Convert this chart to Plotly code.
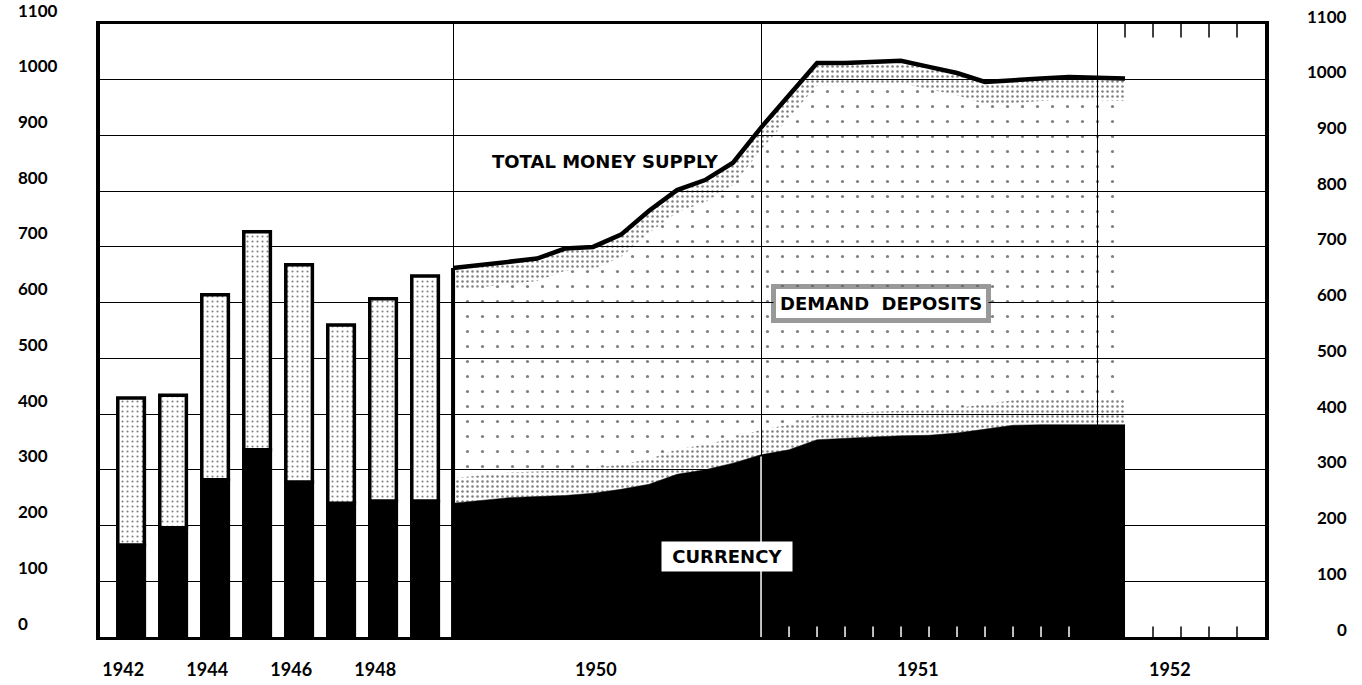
import plotly.graph_objects as go

# ---------------- data ----------------
bar_years = [1942, 1943, 1944, 1945, 1946, 1947, 1948, 1949]
bar_total = [429, 434, 614, 727, 668, 560, 607, 648]
bar_currency = [165, 196, 282, 336, 278, 240, 244, 244]

# monthly observations, 1950 .. early 1952
month_index = list(range(25))
month_total = [662, 668, 674, 679, 697, 700, 722, 765, 802, 820, 851, 914, 972,
               1030, 1030, 1032, 1034, 1023, 1012, 996, 998, 1002, 1005, 1003, 1002]
month_currency = [240, 245, 250, 252, 254, 258, 265, 274, 292, 300, 312, 327, 336,
                  354, 357, 359, 361, 362, 366, 373, 380, 381, 381, 381, 381]

bar_label_years = [1942, 1944, 1946, 1948]
month_years = [1950, 1951, 1952]
y_ticks = [0, 100, 200, 300, 400, 500, 600, 700, 800, 900, 1000, 1100]

# ---------------- layout mapping (x axis in month units) ----------------
BAR_STEP = 1.5
year_start = {1950: 0, 1951: 11, 1952: 23}
X_RANGE = [-12.61, 29.0]
year_end = {1950: 11, 1951: 23, 1952: X_RANGE[1]}
bar_x = [-1.0 - BAR_STEP * (bar_years[-1] - y) for y in bar_years]
bar_deposits = [t - c for t, c in zip(bar_total, bar_currency)]

tick_pos = [bar_x[bar_years.index(y)] - 0.28 for y in bar_label_years] + \
           [(year_start[y] + year_end[y]) / 2 - 0.4 for y in month_years]
tick_txt = [str(y) for y in bar_label_years + month_years]

FONT = "Lato"
LABEL_FONT = "DejaVu Sans"
fig = go.Figure()

# black currency area
fig.add_trace(go.Scatter(x=month_index, y=month_currency, mode="lines",
                         line=dict(color="black", width=0.5), fill="tozeroy",
                         fillcolor="black", hoverinfo="skip"))
# stipple shading of the demand-deposit area (denser near the edges)
band_low = [c + 45 for c in month_currency]
band_high = [t - 40 for t in month_total]
fig.add_trace(go.Scatter(x=month_index, y=band_low, mode="lines", line=dict(width=0),
                         fill="tonexty", fillcolor="rgba(0,0,0,0)",
                         fillpattern=dict(shape=".", fgcolor="black", bgcolor="rgba(0,0,0,0)",
                                          size=5, solidity=0.2), hoverinfo="skip"))
fig.add_trace(go.Scatter(x=month_index, y=band_high, mode="lines", line=dict(width=0),
                         fill="tonexty", fillcolor="rgba(0,0,0,0)",
                         fillpattern=dict(shape=".", fgcolor="black", bgcolor="rgba(0,0,0,0)",
                                          size=15, solidity=0.035), hoverinfo="skip"))
fig.add_trace(go.Scatter(x=month_index, y=month_total, mode="lines",
                         line=dict(color="black", width=4.5),
                         fill="tonexty", fillcolor="rgba(0,0,0,0)",
                         fillpattern=dict(shape=".", fgcolor="black", bgcolor="rgba(0,0,0,0)",
                                          size=5, solidity=0.2), hoverinfo="skip"))
# left edge of the monthly area
fig.add_trace(go.Scatter(x=[month_index[0], month_index[0]], y=[0, month_total[0]],
                         mode="lines", line=dict(color="black", width=4), hoverinfo="skip"))
# white 1951 line through the currency block
i51 = year_start[1951]
fig.add_trace(go.Scatter(x=[month_index[i51], month_index[i51]], y=[0, month_currency[i51] - 3],
                         mode="lines", line=dict(color="white", width=1.5), hoverinfo="skip"))

# annual bars
fig.add_trace(go.Bar(x=bar_x, y=bar_currency, width=0.95,
                     marker=dict(color="black", line=dict(color="black", width=3.5)),
                     hoverinfo="skip"))
fig.add_trace(go.Bar(x=bar_x, y=bar_deposits, base=bar_currency, width=0.95,
                     marker=dict(color="white", line=dict(color="black", width=3.5),
                                 pattern=dict(shape=".", fgcolor="black", bgcolor="white",
                                              size=5, solidity=0.14)),
                     hoverinfo="skip"))

# month ticks
shapes = []
for m in range(12, 23):
    shapes.append(dict(type="line", xref="x", yref="paper", x0=m, x1=m, y0=0, y1=0.017,
                       line=dict(color="white", width=1.5)))
for m in range(25, 29):
    shapes.append(dict(type="line", xref="x", yref="paper", x0=m, x1=m, y0=0, y1=0.017,
                       line=dict(color="black", width=1.5)))
for m in range(24, 29):
    shapes.append(dict(type="line", xref="x", yref="paper", x0=m, x1=m, y0=1, y1=0.978,
                       line=dict(color="black", width=1.5)))

annotations = []
for v in y_ticks:
    annotations.append(dict(x=-0.072, xref="paper", y=v, yref="y", text=str(v),
                            xanchor="left", yanchor="middle", showarrow=False, yshift=14,
                            font=dict(family=FONT, size=17, color="black", weight="bold")))
    annotations.append(dict(x=1.072, xref="paper", y=v, yref="y", text=str(v),
                            xanchor="right", yanchor="middle", showarrow=False, yshift=8,
                            font=dict(family=FONT, size=17, color="black", weight="bold")))

annotations.append(dict(x=5.43, y=853, xref="x", yref="y", text="TOTAL MONEY SUPPLY",
                        showarrow=False,
                        font=dict(family=LABEL_FONT, size=18, color="black", weight="bold")))
annotations.append(dict(x=15.3, y=598, xref="x", yref="y", text="DEMAND&nbsp;&nbsp;DEPOSITS",
                        showarrow=False, bgcolor="white", bordercolor="rgba(0,0,0,0.4)",
                        borderwidth=5, borderpad=4,
                        font=dict(family=LABEL_FONT, size=18, color="black", weight="bold")))
annotations.append(dict(x=9.79, y=145, xref="x", yref="y", text="&nbsp;CURRENCY&nbsp;",
                        showarrow=False, bgcolor="white", borderpad=4,
                        font=dict(family=LABEL_FONT, size=18, color="black", weight="bold")))

fig.update_layout(
    width=1362, height=685,
    margin=dict(l=100, r=97, t=24, b=48, autoexpand=False),
    plot_bgcolor="white", paper_bgcolor="white",
    barmode="overlay", showlegend=False,
    shapes=shapes, annotations=annotations,
    xaxis=dict(range=X_RANGE, tickmode="array", tickvals=tick_pos, ticktext=tick_txt,
               ticks="", showgrid=False, zeroline=False, automargin=False,
               minor=dict(tickmode="array", tickvals=[year_start[y] for y in month_years],
                          showgrid=True, gridcolor="black", gridwidth=1.3, ticks=""),
               showline=True, mirror=True, linecolor="black", linewidth=3,
               ticklabelstandoff=14,
               tickfont=dict(family=FONT, size=18, color="black", weight="bold")),
    yaxis=dict(range=[0, 1100], tickmode="array", tickvals=y_ticks, showticklabels=False,
               showgrid=True, gridcolor="black", gridwidth=1.3, zeroline=False, automargin=False,
               showline=True, mirror=True, linecolor="black", linewidth=4, ticks=""),
)

fig.write_html("out.html", config={"displayModeBar": False},
               post_script="document.body.style.margin='0';document.body.style.overflow='hidden';")
